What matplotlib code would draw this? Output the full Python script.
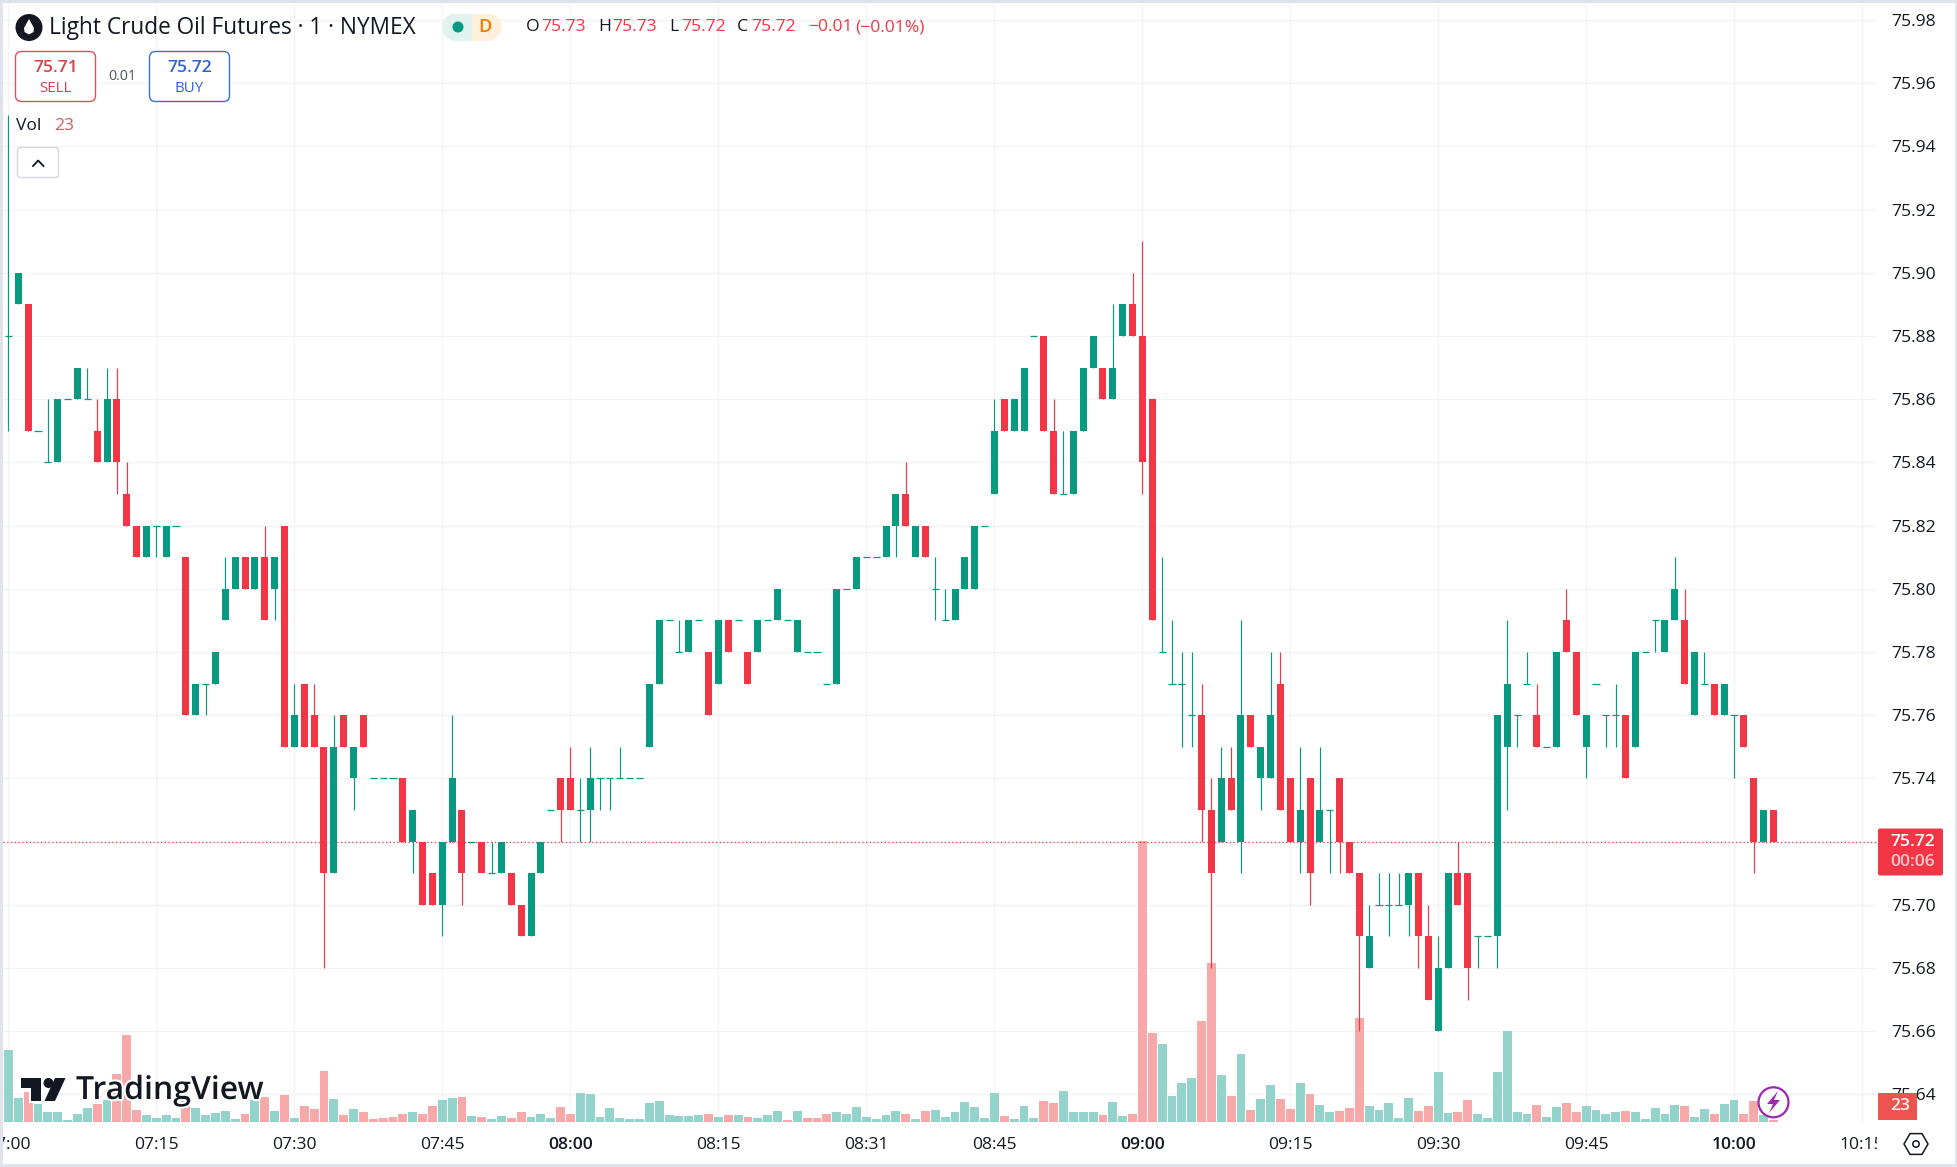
import matplotlib
matplotlib.use("Agg")
import matplotlib.pyplot as plt
import numpy as np
from matplotlib.patches import Rectangle, FancyBboxPatch, Circle, Ellipse, Polygon, RegularPolygon
import matplotlib.patheffects as pe

plt.rcParams['font.family'] = ['Open Sans', 'DejaVu Sans']

# one minute bars, prices in cents above 75.00
opens = [88,89,89,85,84,84,86,86,86,85, 84,86,83,82,81,82,81,82,81,76,
         77,77,79,80,81,80,81,80,82,75, 77,76,75,71,76,74,76,74,74,74,
         74,72,72,71,70,72,73,72,72,71, 71,71,70,69,71,73,74,74,73,73,
         74,74,74,74,74,75,77,79,78,78, 79,78,77,79,79,78,78,79,79,79,
         78,78,78,77,77,80,80,81,81,81, 82,83,81,82,80,79,79,80,80,82,
         83,86,85,85,88,88,85,83,83,85, 87,87,86,88,89,88,86,78,77,77,
         76,76,73,72,74,72,76,74,74,77, 74,72,74,72,73,74,72,71,68,70,
         70,70,70,71,69,66,68,71,71,69, 69,69,75,76,77,76,75,75,79,78,
         75,77,76,76,76,75,78,79,78,79, 79,76,77,77,76,76,76,74,72,73]
highs = [95,90,89,85,86,86,86,87,87,86, 87,87,84,82,82,82,82,82,81,77,
         77,78,81,81,81,81,82,81,82,77, 77,77,75,76,76,75,76,74,74,74,
         74,73,72,71,72,76,73,72,72,72, 72,71,70,71,72,73,74,75,74,75,
         74,74,75,74,74,77,79,79,79,79, 79,78,79,79,79,78,79,79,80,79,
         79,78,78,77,80,80,81,81,81,82, 83,84,82,82,81,80,80,81,82,82,
         86,86,86,87,88,88,86,85,85,87, 88,87,89,89,90,91,86,81,79,78,
         78,77,74,75,75,79,76,75,78,78, 74,75,74,75,73,74,72,71,70,71,
         71,71,71,71,70,69,71,72,71,69, 69,76,79,76,78,77,75,78,80,78,
         76,77,76,77,76,78,78,79,79,81, 80,78,78,77,77,76,76,74,73,73]
lows = [85,89,85,85,84,84,86,86,86,84, 84,83,82,81,81,81,81,82,76,76,
        76,77,79,80,80,80,79,79,75,75, 75,75,68,71,75,73,75,74,74,74,
        72,71,70,70,69,72,70,72,71,71, 71,70,69,69,71,73,72,73,72,72,
        73,73,74,74,74,75,77,79,78,78, 79,76,77,78,79,77,78,79,79,79,
        78,78,78,77,77,80,80,81,81,81, 81,82,81,81,79,79,79,80,80,82,
        83,85,85,85,88,85,83,83,83,85, 87,86,86,88,88,83,79,78,77,75,
        75,72,68,72,73,71,75,73,74,73, 72,71,70,72,71,71,71,66,68,70,
        69,70,69,68,67,66,68,70,67,68, 69,68,73,75,77,75,75,75,78,76,
        74,77,75,75,74,75,78,78,78,79, 77,76,77,76,76,74,75,71,72,72]
closes = [88,90,85,85,84,86,86,87,86,84, 86,84,82,81,82,82,82,82,76,77,
          77,78,80,81,80,81,79,81,75,76, 75,75,71,75,75,75,75,74,74,74,
          72,73,70,70,72,74,71,72,71,71, 72,70,69,71,72,73,73,73,73,74,
          74,74,74,74,74,77,79,79,78,79, 79,76,79,78,79,77,79,79,80,79,
          79,78,78,77,80,80,81,81,81,82, 83,82,82,81,80,79,80,81,82,82,
          85,85,86,87,88,85,83,83,85,87, 88,86,87,89,88,84,79,78,77,77,
          76,73,71,74,73,76,75,75,76,73, 72,73,71,73,73,72,71,69,69,70,
          70,70,71,69,67,68,71,70,68,69, 69,76,77,76,77,75,75,78,78,76,
          76,77,76,76,74,78,78,79,79,80, 77,78,77,76,77,76,75,72,73,72]

volumes = [860,284,360,212,116,116,20,92,164,212, 260,572,1040,140,80,44,80,44,300,164,
           80,104,128,32,92,260,296,128,320,44, 188,152,608,272,80,152,116,32,44,56,
           92,116,92,188,260,284,296,68,56,32, 68,44,116,56,92,44,176,92,344,332,
           56,164,44,32,32,224,248,80,68,68, 80,92,56,80,80,56,44,80,128,20,
           128,44,44,92,116,92,176,56,32,80, 128,92,32,128,140,56,116,236,176,44,
           344,68,32,188,44,248,224,368,116,116, 116,80,236,68,92,3368,1064,932,308,464,
           524,1208,1904,560,308,812,140,272,440,272, 152,464,332,200,116,128,164,1244,188,140,
           224,44,284,128,188,596,104,116,260,92, 44,596,1088,116,92,200,56,176,224,116,
           188,140,92,116,128,116,32,164,92,200, 188,56,152,92,212,260,92,248,80,23]
red_volume_bars = [2,9,11,12,13,18,24,26,28,30,31,32,34,36,37,38,39,40,42,43,46,48,51,52,56,57,
                   71,73,75,79,81,82,83,91,93,101,105,106,111,114,115,116,121,122,124,126,129,
                   130,132,135,136,137,143,144,147,148,155,158,159,164,170,173,176,177,179]

time_bars = [0,15,29,44,57,72,87,100,115,130,145,160,175,188]
time_labels = ["07:00","07:15","07:30","07:45","08:00","08:15","08:31","08:45","09:00",
               "09:15","09:30","09:45","10:00","10:15"]
bold_times = ["08:00","09:00","10:00"]
price_ticks = [75.64,75.66,75.68,75.70,75.72,75.74,75.76,75.78,75.80,75.82,75.84,75.86,
               75.88,75.90,75.92,75.94,75.96,75.98]
last_price = 75.72

W = 1957
H = 1167
GREEN = "#089981"
RED = "#f23645"

O = 75 + np.array(opens)/100
Hi = 75 + np.array(highs)/100
Lo = 75 + np.array(lows)/100
C = 75 + np.array(closes)/100
V = np.array(volumes)
X = np.arange(len(O))

fig = plt.figure(figsize=(W/100, H/100), dpi=100, facecolor="white")
ax = fig.add_axes([3/W, 1-1122/H, (1877-3)/W, (1122-3)/H])
ax.set_xlim(-0.548, 189.5)
y_top = 75.98 + 17/3160
y_bottom = 75.98 - 1102/3160
ax.set_ylim(y_bottom, y_top)
for s in ax.spines.values():
    s.set_visible(False)

# grid
ax.set_axisbelow(True)
ax.yaxis.tick_right()
ax.set_yticks(price_ticks)
ax.set_yticklabels(["%.2f" % p for p in price_ticks], fontsize=12.6, color="#131722")
ax.set_xticks(time_bars)
ax.set_xticklabels(time_labels, fontsize=12.6, color="#131722")
for lab in ax.get_xticklabels():
    if lab.get_text() in bold_times:
        lab.set_fontweight("semibold")
ax.tick_params(axis="both", length=0)
ax.tick_params(axis="x", pad=11)
ax.tick_params(axis="y", pad=10)
ax.grid(True, color="#f2f3f5", lw=0.9)

# volume pane, 12 volume units to a pixel, sits on the bottom edge
vol_colors = ["#f6a9a8" if i in red_volume_bars else "#94d3cb" for i in X]
ax.bar(X, V/(12*3160), bottom=y_bottom, width=0.9, color=vol_colors, linewidth=0, zorder=2)

ax.axhline(last_price, color=RED, lw=0.9, ls=(0, (1, 2)), zorder=3)

# candles
candle_colors = [RED if C[i] < O[i] else GREEN for i in X]
ax.vlines(X, Lo, Hi, colors=candle_colors, lw=0.85, zorder=4)
for i in X:
    if O[i] == C[i]:
        ax.hlines(O[i], i-0.36, i+0.36, colors=candle_colors[i], lw=0.9, zorder=4)
    else:
        ax.bar(i, abs(C[i]-O[i]), bottom=min(O[i], C[i]), width=0.71, color=candle_colors[i],
               linewidth=0, zorder=5)

# everything on top of the chart is placed in pixels
ui = fig.add_axes([0, 0, 1, 1], zorder=10)
ui.set_xlim(0, W)
ui.set_ylim(H, 0)
ui.axis("off")

# hide the cut off 10:15 label, and the frame
ui.add_patch(Rectangle((1877, 1123), 78, 40, color="white", lw=0))
for r in [(0, 0, W, 3), (0, 1164, W, 3), (0, 0, 3, H), (1955, 0, 2, H)]:
    ui.add_patch(Rectangle((r[0], r[1]), r[2], r[3], color="#e0e3eb", lw=0))

# header
ui.add_patch(Ellipse((29, 27.5), 27, 27, color="#131722", lw=0))
ui.add_patch(Polygon([(29, 19), (34, 28), (33.5, 32), (29, 34.5), (24.5, 32), (24, 28)], color="white", lw=0))
ui.text(49, 27.5, "Light Crude Oil Futures · 1 · NYMEX", fontsize=16.3, color="#131722", va="center")
ui.add_patch(FancyBboxPatch((450, 14), 43, 26.5, boxstyle="round,pad=0,rounding_size=0", color="#fff0dc", lw=0))
ui.add_patch(Ellipse((455, 27.3), 26, 26.7, color="#e0f3ef", lw=0))
ui.add_patch(Rectangle((455, 14), 17, 26.7, color="#e0f3ef", lw=0))
ui.add_patch(Ellipse((489, 27.3), 26, 26.7, color="#fff0dc", lw=0))
ui.add_patch(Rectangle((472, 14), 17, 26.7, color="#fff0dc", lw=0))
ui.add_patch(Circle((458, 27), 5.5, color=GREEN, lw=0))
ui.text(484.6, 27, "D", fontsize=13, color="#f57c00", ha="center", va="center", fontweight="semibold")

header_items = [(526, "O", "#131722"), (541, "75.73", RED), (598, "H", "#131722"), (612, "75.73", RED),
                (669, "L", "#131722"), (681, "75.72", RED), (737, "C", "#131722"), (751, "75.72", RED),
                (808, "−0.01", RED), (855, "(−0.01%)", RED)]
for hx, ht, hc in header_items:
    ui.text(hx, 27, ht, fontsize=12.6, color=hc, va="center")

# sell / buy
ui.add_patch(FancyBboxPatch((15.5, 51.5), 80, 50, boxstyle="round,pad=0,rounding_size=6",
                            facecolor="white", edgecolor="#e0505c", lw=1))
ui.text(55.5, 68, "75.71", fontsize=12.6, color="#d9404e", ha="center", va="center", fontweight="semibold")
ui.text(55.5, 88, "SELL", fontsize=10.8, color="#d9404e", ha="center", va="center")
ui.text(122, 76, "0.01", fontsize=10.3, color="#50535e", ha="center", va="center")
ui.add_patch(FancyBboxPatch((149.5, 51.5), 80, 50, boxstyle="round,pad=0,rounding_size=6",
                            facecolor="white", edgecolor="#3b6fd8", lw=1))
ui.text(189.5, 68, "75.72", fontsize=12.6, color="#2f62d9", ha="center", va="center", fontweight="semibold")
ui.text(189.5, 88, "BUY", fontsize=10.8, color="#2f62d9", ha="center", va="center")

# volume legend
ui.text(16, 126, "Vol", fontsize=12.6, color="#131722", va="center")
ui.text(54, 126, "23", fontsize=12.6, color="#dd5b5b", va="center")
ui.add_patch(FancyBboxPatch((17.5, 147.5), 41, 30, boxstyle="round,pad=0,rounding_size=3",
                            facecolor="white", edgecolor="#d6d8de", lw=1))
ui.plot([33, 38.2, 43.4], [166, 160.5, 166], color="#131722", lw=1.3)

# logo
logo = "#131722"
ui.add_patch(Polygon([(21, 1078), (40.5, 1078), (40.5, 1101), (31, 1101), (31, 1088), (21, 1088)], color=logo, lw=0,
                     path_effects=[pe.withStroke(linewidth=3, foreground="white")]))
ui.add_patch(Circle((48.5, 1083), 5, color=logo, lw=0))
ui.add_patch(Polygon([(55, 1078), (65.5, 1078), (55, 1101), (44.5, 1101)], color=logo, lw=0))
ui.text(76, 1090.5, "TradingView", fontsize=23, color=logo, va="center", fontweight="semibold",
        path_effects=[pe.withStroke(linewidth=3, foreground="white")])

# last price and volume tags
ui.add_patch(FancyBboxPatch((1878, 828.5), 65, 47, boxstyle="round,pad=0,rounding_size=2", color=RED, lw=0))
ui.text(1913, 841.5, "75.72", fontsize=12.6, color="white", ha="center", va="center", fontweight="semibold")
ui.text(1913, 862.5, "00:06", fontsize=12.6, color="#fcc8cd", ha="center", va="center", fontweight="semibold")
ui.add_patch(Rectangle((1878, 1092.7), 39, 27.3, color="#ef5350", lw=0))
ui.text(1900, 1106.5, "23", fontsize=12.6, color="white", ha="center", va="center", fontweight="semibold",
        alpha=0.9)

# lightning badge
ui.add_patch(Circle((1773.5, 1102.3), 15, facecolor="white", edgecolor="#9c27b0", lw=1.6))
ui.add_patch(Polygon([(1778, 1091), (1767, 1104), (1773, 1104), (1769, 1113), (1780, 1100), (1774, 1100)],
                     color="#9c27b0", lw=0))

# settings icon
ui.add_patch(RegularPolygon((1916, 1144), 6, radius=12, orientation=np.pi/6, facecolor="white",
                            edgecolor="#131722", lw=1.1))
ui.add_patch(Circle((1916, 1144), 3.2, facecolor="white", edgecolor="#131722", lw=1.1))

fig.savefig("out.png", dpi=100)
